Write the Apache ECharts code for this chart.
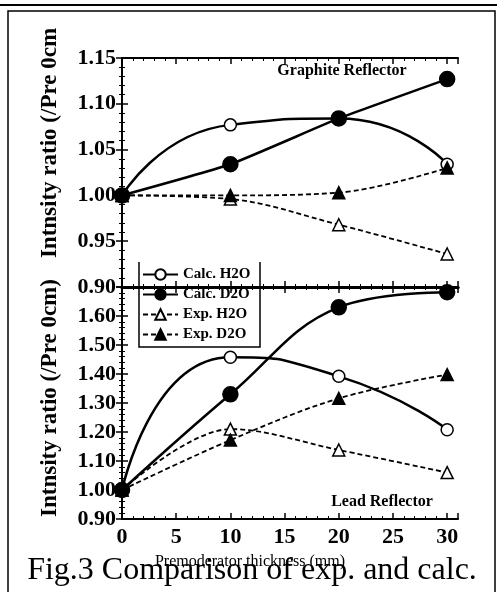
<!DOCTYPE html>
<html>
<head>
    <meta charset="utf-8">
    <title>Fig.3 Comparison of exp. and calc.</title>
    <script src="https://cdn.jsdelivr.net/npm/echarts@6/dist/echarts.min.js"></script>
    <style>
        html, body { margin: 0; padding: 0; background: #fff; }
    </style>
</head>
<body>
    <div id="myChart" style="width: 497px; height: 592px;"></div>

    <script>
        // premoderator thickness (mm)
        const thickness = [0, 10, 20, 30];

        // graphite reflector (top panel)
        const graphiteCalcH2O = [1.000, 1.077, 1.084, 1.034];
        const graphiteCalcD2O = [1.000, 1.034, 1.084, 1.127];
        const graphiteExpH2O = [1.000, 0.996, 0.968, 0.936];
        const graphiteExpD2O = [1.000, 1.000, 1.003, 1.030];

        // lead reflector (bottom panel)
        const leadCalcH2O = [1.000, 1.458, 1.392, 1.208];
        const leadCalcD2O = [1.000, 1.330, 1.630, 1.682];
        const leadExpH2O = [1.000, 1.210, 1.138, 1.060];
        const leadExpD2O = [1.000, 1.172, 1.316, 1.398];

        const seriesNames = ['Calc. H2O', 'Calc. D2O', 'Exp. H2O', 'Exp. D2O'];

        const serif = '"Liberation Serif", "DejaVu Serif", serif';

        function pairs(ys) {
            return thickness.map((x, i) => [x, ys[i]]);
        }

        // marker / line look for each of the 4 kinds
        function makeSeries(kind, ys, grid, smooth) {
            const calc = kind < 2;
            const open = kind === 0 || kind === 2;
            return {
                name: seriesNames[kind],
                type: 'line',
                xAxisIndex: grid * 2,
                yAxisIndex: grid * 2,
                data: pairs(ys),
                smooth: smooth,
                clip: false,
                symbol: calc ? 'circle' : 'triangle',
                symbolSize: calc ? (open ? 12 : 15) : 12,
                lineStyle: {
                    color: '#000',
                    width: calc ? 2.5 : 1.8,
                    type: calc ? 'solid' : [5, 3]
                },
                itemStyle: {
                    color: open ? '#fff' : '#000',
                    borderColor: '#000',
                    borderWidth: 1.5
                },
                z: open ? 3 : 4,
                animation: false
            };
        }

        function xAxisFor(grid, position, labels) {
            const divider = (grid === 0 && position === 'bottom') || (grid === 1 && position === 'top');
            return {
                type: 'value',
                gridIndex: grid,
                position: position,
                min: 0,
                max: 31,
                interval: 5,
                axisLine: { show: true, lineStyle: { color: '#000', width: divider ? 3 : 2 } },
                axisTick: { show: true, inside: true, length: 6, lineStyle: { color: '#000', width: 1.5 } },
                minorTick: { show: true, splitNumber: 5, length: 3, lineStyle: { color: '#000', width: 1 } },
                splitLine: { show: false },
                axisLabel: {
                    show: labels,
                    margin: 7,
                    color: '#000',
                    fontFamily: serif,
                    fontWeight: 'bold',
                    fontSize: 22,
                    formatter: v => (v % 5 === 0 ? String(v) : '')
                }
            };
        }

        function yAxisFor(grid, position, min, max, interval, labels, hideMax) {
            return {
                type: 'value',
                gridIndex: grid,
                position: position,
                min: min,
                max: max,
                interval: interval,
                axisLine: { show: true, lineStyle: { color: '#000', width: 2 } },
                axisTick: { show: true, inside: true, length: 6, lineStyle: { color: '#000', width: 1.5 } },
                minorTick: { show: true, splitNumber: 5, length: 3, lineStyle: { color: '#000', width: 1 } },
                splitLine: { show: false },
                axisLabel: {
                    show: labels,
                    margin: 6,
                    color: '#000',
                    fontFamily: serif,
                    fontWeight: 'bold',
                    fontSize: 22,
                    formatter: v => (hideMax && Math.abs(v - max) < 1e-6 ? '' : v.toFixed(2))
                }
            };
        }

        const myChart = echarts.init(document.getElementById('myChart'));

        const option = {
            animation: false,
            backgroundColor: '#fff',
            grid: [
                { left: 122, top: 58, width: 336, height: 229 },
                { left: 122, top: 287, width: 336, height: 232 }
            ],
            xAxis: [
                xAxisFor(0, 'bottom', false),
                xAxisFor(0, 'top', false),
                xAxisFor(1, 'bottom', true),
                xAxisFor(1, 'top', false)
            ],
            yAxis: [
                yAxisFor(0, 'left', 0.9, 1.15, 0.05, true, false),
                yAxisFor(0, 'right', 0.9, 1.15, 0.05, false, false),
                yAxisFor(1, 'left', 0.9, 1.7, 0.1, true, true),
                yAxisFor(1, 'right', 0.9, 1.7, 0.1, false, true)
            ],
            legend: {
                data: seriesNames,
                orient: 'vertical',
                left: 138,
                top: 262,
                padding: [5, 6, 8, 4],
                itemWidth: 35,
                itemHeight: 13,
                itemGap: 5,
                textStyle: { color: '#000', fontFamily: serif, fontWeight: 'bold', fontSize: 15 }
            },
            series: [
                makeSeries(0, graphiteCalcH2O, 0, 0.6),
                makeSeries(1, graphiteCalcD2O, 0, 0.15),
                makeSeries(2, graphiteExpH2O, 0, 0.35),
                makeSeries(3, graphiteExpD2O, 0, 0.35),
                makeSeries(0, leadCalcH2O, 1, 0.6),
                makeSeries(1, leadCalcD2O, 1, 0.4),
                makeSeries(2, leadExpH2O, 1, 0.35),
                makeSeries(3, leadExpD2O, 1, 0.35)
            ],
            graphic: [
                // page frame
                { type: 'line', shape: { x1: 0, y1: 5, x2: 497, y2: 5 }, style: { stroke: '#000', lineWidth: 2 } },
                { type: 'rect', shape: { x: 8, y: 11, width: 487, height: 600 }, style: { fill: null, stroke: '#000', lineWidth: 1.5 } },
                // legend box (open at the top)
                { type: 'polyline', shape: { points: [[139, 262], [139, 347], [260, 347], [260, 262]] }, style: { fill: null, stroke: '#000', lineWidth: 1.5 } },
                // y axis titles
                {
                    type: 'text', x: 50, y: 143, rotation: Math.PI / 2,
                    style: { text: 'Intnsity ratio (/Pre 0cm', font: 'bold 23px ' + serif, fill: '#000', textAlign: 'center', textVerticalAlign: 'middle' }
                },
                {
                    type: 'text', x: 50, y: 398, rotation: Math.PI / 2,
                    style: { text: 'Intnsity ratio (/Pre 0cm)', font: 'bold 23px ' + serif, fill: '#000', textAlign: 'center', textVerticalAlign: 'middle' }
                },
                // panel labels
                {
                    type: 'text', x: 342, y: 71,
                    style: { text: 'Graphite Reflector', font: 'bold 16px ' + serif, fill: '#000', textAlign: 'center', textVerticalAlign: 'middle' }
                },
                {
                    type: 'text', x: 382, y: 502,
                    style: { text: 'Lead Reflector', font: 'bold 16px ' + serif, fill: '#000', textAlign: 'center', textVerticalAlign: 'middle' }
                },
                // x axis title and caption
                {
                    type: 'text', x: 250, y: 562,
                    style: { text: 'Premoderator thickness (mm)', font: '16px ' + serif, fill: '#000', textAlign: 'center', textVerticalAlign: 'middle' }
                },
                {
                    type: 'text', x: 252, y: 571,
                    style: { text: 'Fig.3 Comparison of exp. and calc.', font: '32px ' + serif, fill: '#000', textAlign: 'center', textVerticalAlign: 'middle' }
                }
            ]
        };

        myChart.setOption(option);
    </script>
</body>
</html>
